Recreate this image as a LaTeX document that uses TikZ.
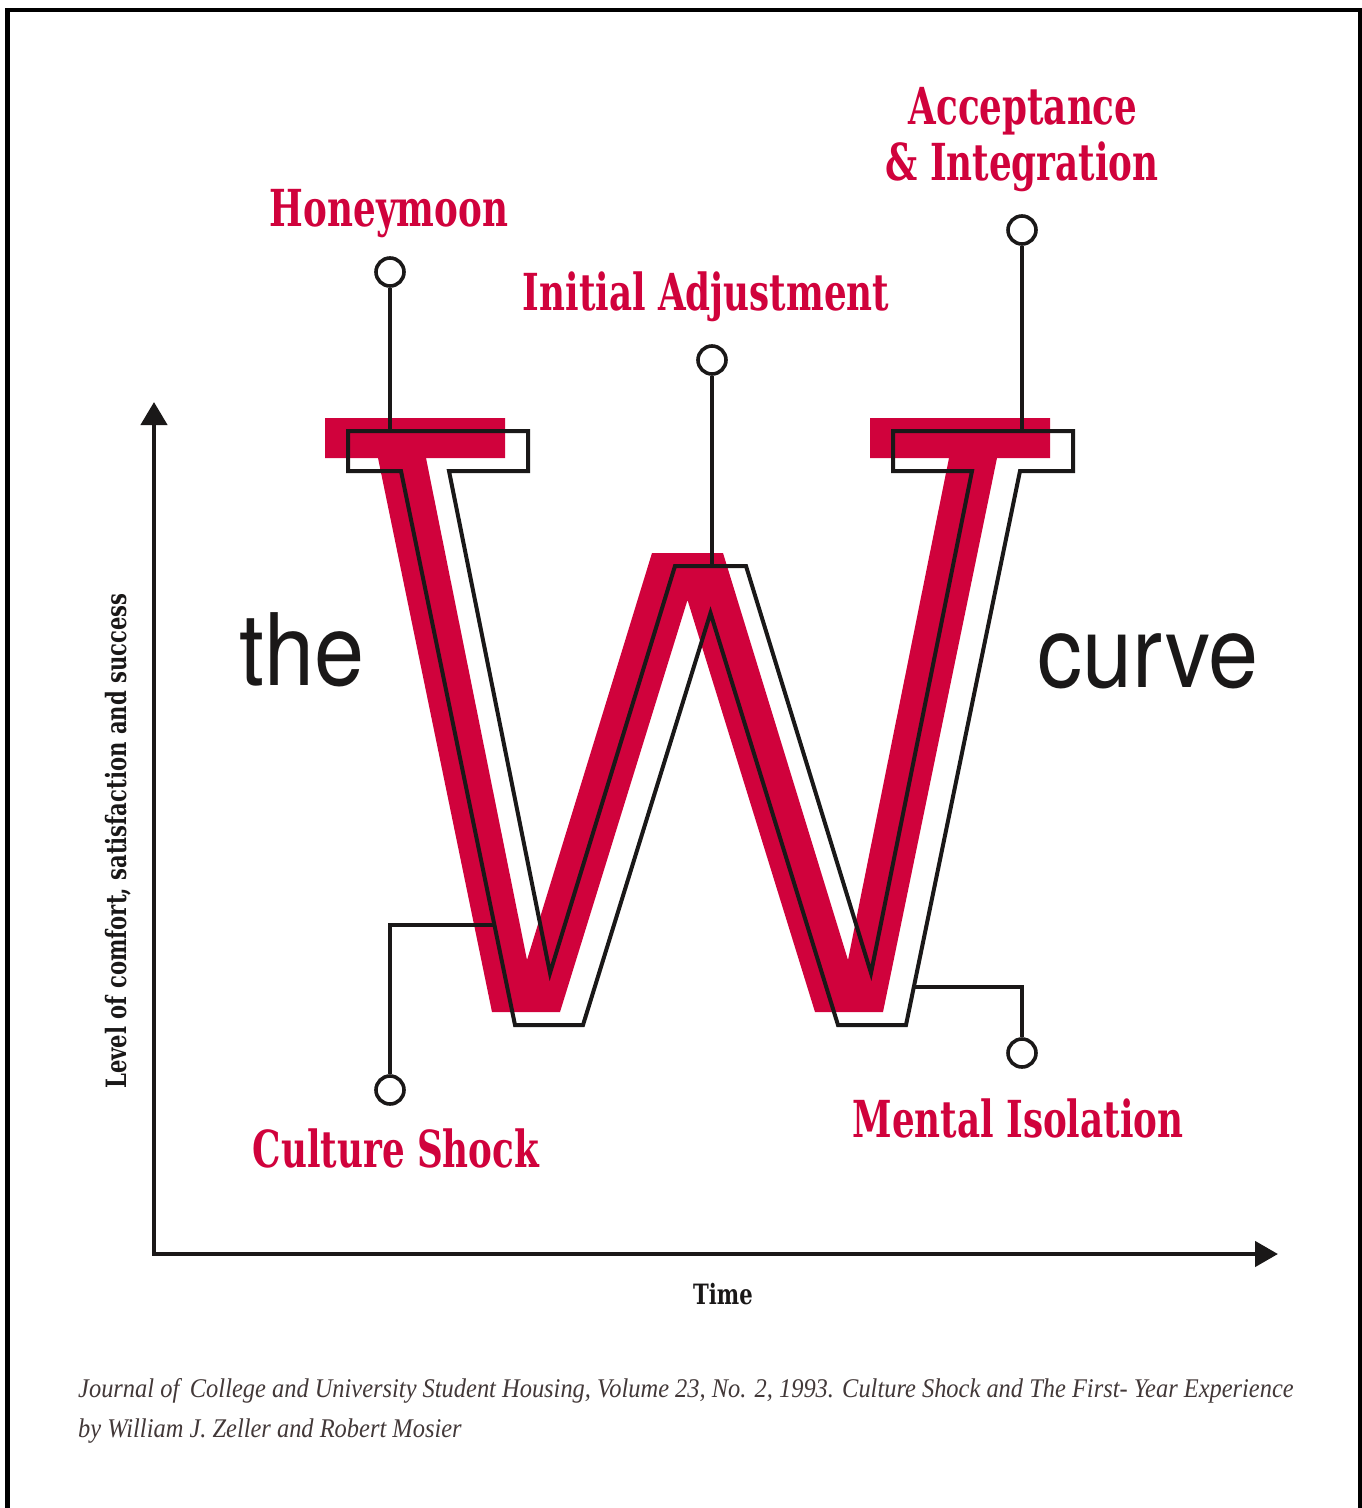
\documentclass[tikz,border=0pt]{standalone}
\usepackage{fontspec}
\usetikzlibrary{arrows.meta}
\definecolor{wred}{RGB}{208,2,60}
\definecolor{ink}{RGB}{26,24,24}
\definecolor{note}{RGB}{66,56,56}
\newfontfamily\slabfont[FakeStretch=0.70]{DejaVu Serif Bold}
\newfontfamily\axfont[FakeStretch=0.755]{DejaVu Serif Bold}
\newfontfamily\grotfont[FakeStretch=0.9]{TeX Gyre Heros}
\newfontfamily\notefont[FakeStretch=0.905]{Liberation Serif}

\newcommand\wletter{(325,418) -- (505,418) -- (505,458) -- (426,458) --
    (527,960) -- (652,553) -- (723,553) -- (848,960) -- (949,458) --
    (870,458) -- (870,418) -- (1050,418) -- (1050,458) -- (997,458) --
    (883,1012) -- (815,1012) -- (687.5,600) -- (560,1012) -- (492,1012) --
    (378,458) -- (325,458) -- cycle}

\begin{document}
\begin{tikzpicture}[
    x=1pt, y=-1pt,
    l/.style={
        line width=3.6pt,
        color=ink
    },
    knob/.style={
        circle, draw=ink, fill=white, line width=3.6pt,
        minimum size=28pt, inner sep=0pt
    },
    lbl/.style={text=wred, inner sep=0pt, anchor=base,
        font={\slabfont\fontsize{51}{51}\selectfont}},
    big/.style={text=ink, inner sep=0pt, anchor=base,
        font={\grotfont\fontsize{100}{100}\selectfont}},
    ax/.style={text=ink, inner sep=0pt, anchor=base,
        font={\axfont\fontsize{28}{28}\selectfont}},
    cite/.style={text=note, inner sep=0pt, anchor=base west,
        font={\notefont\itshape\fontsize{27}{27}\selectfont}}
]

    \useasboundingbox (0,0) rectangle (1362,1508);
    \draw [line width=4.5pt, line join=miter] (7.5,1508) -- (7.5,10) -- (1359.8,10) -- (1359.8,1508);

    % axes
    \coordinate (O)  at ( 154, 1254);
    \coordinate (Y)  at ( 154,  402);
    \coordinate (X)  at (1278, 1254);
    \draw [line width=4.5pt, color=ink, line join=miter,
        {Triangle[length=23pt,width=26pt]}-{Triangle[length=23pt,width=25pt]}] (Y) -- (O) -- (X);

    \node [ax] (time) at (723, 1304) {Time};
    \node [ax, rotate=90, anchor=base] (level) at (126, 841) {Level of comfort, satisfaction and success};

    % the letter, red body and offset outline
    \fill [wred] \wletter;
    \draw [l, line width=4pt, line join=miter, shift={(23,13)}] \wletter;

    \node [big] (the)   at ( 302, 685) {the};
    \node [big] (curve) at (1148, 687) {curve};

    % stages
    \node [knob] (hm) at ( 390,  272) {};
    \node [knob] (ia) at ( 712,  360) {};
    \node [knob] (ai) at (1022,  230) {};
    \node [knob] (cs) at ( 390, 1090) {};
    \node [knob] (mi) at (1022, 1053) {};

    \coordinate (hm-w) at ( 390,  432);
    \coordinate (ia-w) at ( 712,  566);
    \coordinate (ai-w) at (1022,  432);
    \coordinate (cs-w) at ( 494,  925);
    \coordinate (mi-w) at ( 913,  987);

    \draw [l] (hm) -- (hm-w);
    \draw [l] (ia) -- (ia-w);
    \draw [l] (ai) -- (ai-w);
    \draw [l] (cs) |- (cs-w);
    \draw [l] (mi) |- (mi-w);

    \node [lbl] (HM)  at ( 389,  226) {Honeymoon};
    \node [lbl] (IA)  at ( 706,  310) {Initial Adjustment};
    \node [lbl] (AI1) at (1023,  124) {Acceptance};
    \node [lbl] (AI2) at (1022,  180) {\& Integration};
    \node [lbl] (CS)  at ( 396, 1167) {Culture Shock};
    \node [lbl] (MI)  at (1018, 1137) {Mental Isolation};

    \node [cite] (src1) at (78, 1397) {Journal of\, College and University Student Housing, Volume 23, No. 2, 1993. Culture Shock and The First- Year Experience};
    \node [cite] (src2) at (78, 1437) {by William J. Zeller and Robert Mosier};

\end{tikzpicture}
\end{document}
